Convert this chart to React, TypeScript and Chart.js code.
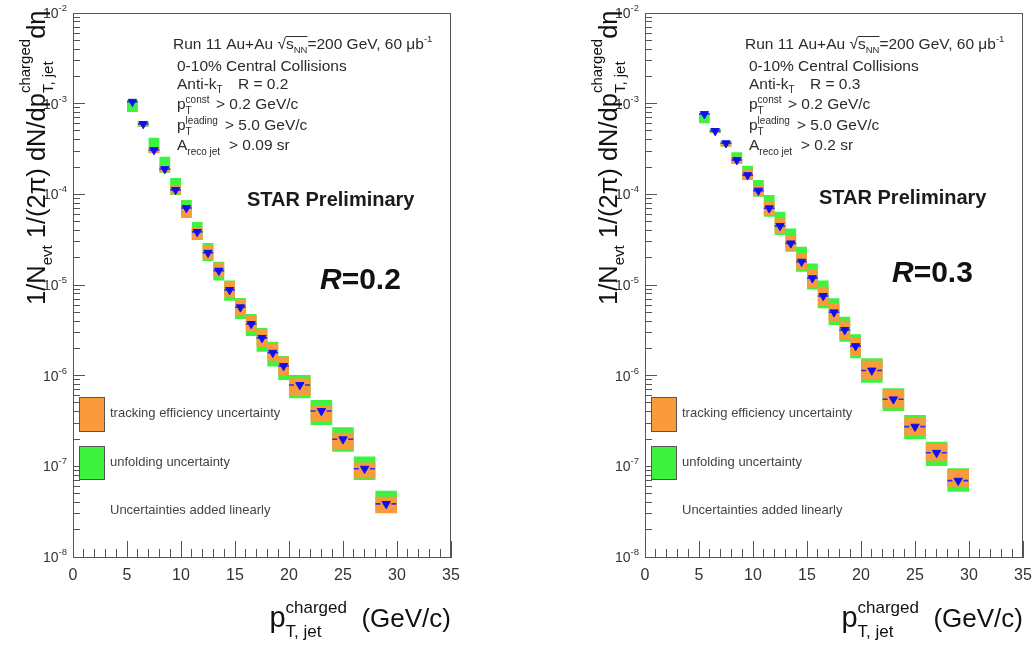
import React, { useEffect, useRef } from 'react';
import { Chart, registerables } from 'chart.js';

Chart.register(...registerables);

const FONT = '"Liberation Sans", Arial, Helvetica, sans-serif';

// ---------------- data ----------------
const binEdges = [5, 6, 7, 8, 9, 10, 11, 12, 13, 14, 15, 16, 17, 18, 19, 20, 22, 24, 26, 28, 30];
const xMajorTicks = [0, 5, 10, 15, 20, 25, 30, 35];
const xMinorTicks = [0, 1, 2, 3, 4, 5, 6, 7, 8, 9, 10, 11, 12, 13, 14, 15, 16, 17, 18, 19, 20, 21, 22, 23, 24, 25, 26, 27, 28, 29, 30, 31, 32, 33, 34, 35];
const yDecades = [1e-8, 1e-7, 1e-6, 1e-5, 1e-4, 1e-3, 1e-2];
const yMinorMantissas = [2, 3, 4, 5, 6, 7, 8, 9];

// R = 0.2
const r02Value = [1.05e-3, 5.97e-4, 3.08e-4, 1.9e-4, 1.12e-4, 7.07e-5, 3.85e-5, 2.27e-5, 1.44e-5, 8.81e-6, 5.68e-6, 3.72e-6, 2.61e-6, 1.79e-6, 1.28e-6, 7.89e-7, 4.08e-7, 1.99e-7, 9.42e-8, 3.85e-8];
const r02UnfHi = [1.1e-3, 6.44e-4, 4.22e-4, 2.6e-4, 1.51e-4, 8.67e-5, 4.95e-5, 2.9e-5, 1.81e-5, 1.12e-5, 7.19e-6, 4.79e-6, 3.36e-6, 2.37e-6, 1.65e-6, 1.02e-6, 5.39e-7, 2.7e-7, 1.28e-7, 5.38e-8];
const r02UnfLo = [8.1e-4, 5.53e-4, 2.84e-4, 1.73e-4, 9.84e-5, 5.48e-5, 3.13e-5, 1.84e-5, 1.12e-5, 6.71e-6, 4.22e-6, 2.74e-6, 1.84e-6, 1.26e-6, 8.96e-7, 5.63e-7, 2.86e-7, 1.45e-7, 7.07e-8, 3.03e-8];
const r02TrkHi = [1.05e-3, 6.12e-4, 3.33e-4, 2.11e-4, 1.24e-4, 7.62e-5, 4.26e-5, 2.76e-5, 1.76e-5, 1.09e-5, 7.01e-6, 4.67e-6, 3.27e-6, 2.29e-6, 1.62e-6, 9.35e-7, 4.75e-7, 2.35e-7, 1.1e-7, 4.62e-8];
const r02TrkLo = [1.05e-3, 5.6e-4, 2.86e-4, 1.75e-4, 1.0e-4, 5.52e-5, 3.15e-5, 1.94e-5, 1.24e-5, 7.43e-6, 4.67e-6, 3.05e-6, 2.09e-6, 1.46e-6, 1.02e-6, 5.97e-7, 3.1e-7, 1.51e-7, 7.38e-8, 3.05e-8];

// R = 0.3
const r03Value = [7.69e-4, 5.0e-4, 3.66e-4, 2.39e-4, 1.63e-4, 1.1e-4, 7.02e-5, 4.48e-5, 2.88e-5, 1.81e-5, 1.19e-5, 7.57e-6, 5.0e-6, 3.19e-6, 2.12e-6, 1.14e-6, 5.49e-7, 2.74e-7, 1.41e-7, 6.95e-8];
const r03UnfHi = [7.83e-4, 5.35e-4, 3.91e-4, 2.91e-4, 2.07e-4, 1.44e-4, 9.84e-5, 6.44e-5, 4.2e-5, 2.64e-5, 1.73e-5, 1.12e-5, 7.13e-6, 4.47e-6, 2.86e-6, 1.56e-6, 7.26e-7, 3.68e-7, 1.87e-7, 9.51e-8];
const r03UnfLo = [6.07e-4, 4.71e-4, 3.35e-4, 2.16e-4, 1.44e-4, 9.42e-5, 5.67e-5, 3.56e-5, 2.33e-5, 1.4e-5, 8.91e-6, 5.54e-6, 3.62e-6, 2.37e-6, 1.56e-6, 8.37e-7, 4.08e-7, 1.99e-7, 1.01e-7, 5.25e-8];
const r03TrkHi = [7.69e-4, 5.1e-4, 3.81e-4, 2.6e-4, 1.85e-4, 1.24e-4, 8.3e-5, 5.45e-5, 3.47e-5, 2.24e-5, 1.48e-5, 9.57e-6, 6.28e-6, 4.04e-6, 2.65e-6, 1.47e-6, 6.95e-7, 3.47e-7, 1.8e-7, 9.12e-8];
const r03TrkLo = [7.69e-4, 4.8e-4, 3.37e-4, 2.18e-4, 1.46e-4, 9.5e-5, 5.92e-5, 3.78e-5, 2.39e-5, 1.46e-5, 9.44e-6, 5.86e-6, 3.94e-6, 2.52e-6, 1.65e-6, 8.96e-7, 4.37e-7, 2.16e-7, 1.15e-7, 5.97e-8];

// ---------------- helpers ----------------
type Panel = {
  value: number[];
  unfHi: number[];
  unfLo: number[];
  trkHi: number[];
  trkLo: number[];
  rText: string;
  areaCut: string;
  yAxisWidth: number;
  padRight: number;
  rY: number;
  starY: number;
};

const panels: Panel[] = [
  { value: r02Value, unfHi: r02UnfHi, unfLo: r02UnfLo, trkHi: r02TrkHi, trkLo: r02TrkLo, rText: '0.2', areaCut: '> 0.09 sr', yAxisWidth: 73, padRight: 66, rY: 289, starY: 206 },
  { value: r03Value, unfHi: r03UnfHi, unfLo: r03UnfLo, trkHi: r03TrkHi, trkLo: r03TrkLo, rText: '0.3', areaCut: '> 0.2 sr', yAxisWidth: 128, padRight: 11, rY: 282, starY: 204 },
];

function stepPoints(vals: number[]) {
  return binEdges.map((e, i) => ({ x: e, y: vals[Math.min(i, vals.length - 1)] }));
}
function errorBarPoints(vals: number[]) {
  const pts: { x: number; y: number | null }[] = [];
  vals.forEach((v, i) => {
    pts.push({ x: binEdges[i], y: v }, { x: binEdges[i + 1], y: v }, { x: binEdges[i + 1], y: null });
  });
  return pts;
}
function markerPoints(vals: number[]) {
  return vals.map((v, i) => ({ x: (binEdges[i] + binEdges[i + 1]) / 2, y: v }));
}

type Seg = { t?: string; s: number; dy?: number; b?: boolean; i?: boolean; sup?: string; sub?: string; supDy?: number; subDy?: number };
function fnt(s: number, b?: boolean, i?: boolean) {
  return `${i ? 'italic ' : ''}${b ? 'bold ' : ''}${s}px ${FONT}`;
}
function segWidth(ctx: CanvasRenderingContext2D, g: Seg) {
  ctx.font = fnt(g.s, g.b, g.i);
  if (g.t !== undefined) return ctx.measureText(g.t).width;
  return Math.max(g.sup ? ctx.measureText(g.sup).width : 0, g.sub ? ctx.measureText(g.sub).width : 0);
}
function richWidth(ctx: CanvasRenderingContext2D, segs: Seg[]) {
  return segs.reduce((a, g) => a + segWidth(ctx, g), 0);
}
function drawRich(ctx: CanvasRenderingContext2D, x: number, y: number, segs: Seg[]) {
  for (const g of segs) {
    const w = segWidth(ctx, g);
    ctx.font = fnt(g.s, g.b, g.i);
    if (g.t !== undefined) {
      ctx.fillText(g.t, x, y + (g.dy || 0));
    } else {
      if (g.sup) ctx.fillText(g.sup, x, y + (g.supDy || 0));
      if (g.sub) ctx.fillText(g.sub, x, y + (g.subDy || 0));
    }
    x += w;
  }
  return x;
}

function annotationPlugin(panel: Panel) {
  return {
    id: 'annotations',
    afterDraw(chart: any) {
      const ctx: CanvasRenderingContext2D = chart.ctx;
      const a = chart.chartArea;
      const L = a.left;
      ctx.save();
      ctx.textAlign = 'left';
      ctx.textBaseline = 'alphabetic';

      // frame
      ctx.strokeStyle = '#555';
      ctx.lineWidth = 1;
      ctx.strokeRect(Math.round(a.left) + 0.5, Math.round(a.top) + 0.5, Math.round(a.right - a.left) - 1, Math.round(a.bottom - a.top));

      // y tick labels 10^n
      const yScale = chart.scales.y;
      ctx.fillStyle = '#333';
      yDecades.forEach((v) => {
        const py = yScale.getPixelForValue(v);
        const exp = String(Math.round(Math.log10(v)));
        ctx.font = fnt(14);
        const w10 = ctx.measureText('10').width;
        ctx.font = fnt(9.5);
        const we = ctx.measureText(exp).width;
        const x0 = L - 6 - w10 - we;
        ctx.font = fnt(14);
        ctx.fillText('10', x0, py + 5);
        ctx.font = fnt(9.5);
        ctx.fillText(exp, x0 + w10, py - 2);
      });

      // y title (rotated)
      ctx.save();
      ctx.translate(L - 28, 305);
      ctx.rotate(-Math.PI / 2);
      ctx.fillStyle = '#111';
      drawRich(ctx, 0, 0, [
        { t: '1/N', s: 25.5 },
        { t: 'evt', s: 15, dy: 7 },
        { t: ' 1/(2\u03c0) dN/dp', s: 25.5 },
        { sup: 'charged', sub: 'T, jet', s: 15, supDy: -15, subDy: 8 },
        { t: 'd\u03b7', s: 25.5 },
      ]);
      ctx.restore();

      // x title, right aligned
      const xt: Seg[] = [
        { t: 'p', s: 29 },
        { sup: 'charged', sub: 'T, jet', s: 17, supDy: -14, subDy: 10 },
        { t: '  (GeV/c)', s: 26 },
      ];
      ctx.fillStyle = '#111';
      drawRich(ctx, a.right - richWidth(ctx, xt), 627, xt);

      // info text block
      ctx.fillStyle = '#2b2b2b';
      const S = 15.5;
      let x = drawRich(ctx, L + 100, 49, [{ t: 'Run 11 Au+Au ', s: S }]);
      ctx.font = fnt(S);
      ctx.fillText('\u221a', x, 49);
      x += ctx.measureText('\u221a').width;
      const ox = x;
      x = drawRich(ctx, x, 49, [{ t: 's', s: S }, { t: 'NN', s: 9.5, dy: 4 }]);
      ctx.strokeStyle = '#2b2b2b';
      ctx.beginPath();
      ctx.moveTo(ox, 36.5);
      ctx.lineTo(x, 36.5);
      ctx.stroke();
      drawRich(ctx, x, 49, [{ t: '=200 GeV, 60 \u03bcb', s: S }, { t: '-1', s: 9.5, dy: -7 }]);

      drawRich(ctx, L + 104, 71, [{ t: '0-10% Central Collisions', s: S }]);
      drawRich(ctx, L + 104, 89, [{ t: 'Anti-k', s: S }, { t: 'T', s: 10, dy: 4 }]);
      drawRich(ctx, L + 165, 89, [{ t: 'R = ' + panel.rText, s: S }]);
      drawRich(ctx, L + 104, 109, [{ t: 'p', s: S }, { sup: 'const', sub: 'T', s: 10, supDy: -6, subDy: 5 }]);
      drawRich(ctx, L + 143, 109, [{ t: '> 0.2 GeV/c', s: S }]);
      drawRich(ctx, L + 104, 130, [{ t: 'p', s: S }, { sup: 'leading', sub: 'T', s: 10, supDy: -6, subDy: 5 }]);
      drawRich(ctx, L + 152, 130, [{ t: '> 5.0 GeV/c', s: S }]);
      drawRich(ctx, L + 104, 150, [{ t: 'A', s: S }, { t: 'reco jet', s: 10, dy: 5 }]);
      drawRich(ctx, L + 156, 150, [{ t: panel.areaCut, s: S }]);

      // STAR Preliminary
      ctx.fillStyle = '#1a1a1a';
      drawRich(ctx, L + 174, panel.starY, [{ t: 'STAR Preliminary', s: 20, b: true }]);

      // R label
      ctx.fillStyle = '#111';
      drawRich(ctx, L + 247, panel.rY, [
        { t: 'R', s: 30, b: true, i: true },
        { t: '=' + panel.rText, s: 30, b: true },
      ]);

      // legend
      const boxes = [
        { c: '#f99a3c', y0: 397, y1: 432, txt: 'tracking efficiency uncertainty', ty: 417 },
        { c: '#3ff23f', y0: 446, y1: 480, txt: 'unfolding uncertainty', ty: 466 },
      ];
      boxes.forEach((bx) => {
        ctx.fillStyle = bx.c;
        ctx.fillRect(L + 6, bx.y0, 26, bx.y1 - bx.y0);
        ctx.strokeStyle = '#555';
        ctx.strokeRect(L + 6.5, bx.y0 + 0.5, 25, bx.y1 - bx.y0 - 1);
        ctx.fillStyle = '#444';
        drawRich(ctx, L + 37, bx.ty, [{ t: bx.txt, s: 13 }]);
      });
      ctx.fillStyle = '#444';
      drawRich(ctx, L + 37, 514, [{ t: 'Uncertainties added linearly', s: 13 }]);

      ctx.restore();
    },
  };
}

function buildConfig(panel: Panel): any {
  const tickGrid = (len: number) => ({
    display: true,
    drawOnChartArea: false,
    drawTicks: true,
    tickLength: len,
    color: '#555',
    tickColor: '#555',
    tickWidth: 1,
  });
  const yMinorValues: number[] = [];
  yDecades.slice(0, -1).forEach((d) => yMinorMantissas.forEach((m) => yMinorValues.push(d * m)));
  const noPad = (s: any) => {
    s.paddingLeft = 0;
    s.paddingRight = 0;
    s.paddingTop = 0;
    s.paddingBottom = 0;
  };

  return {
    type: 'line',
    data: {
      datasets: [
        {
          label: 'data',
          data: markerPoints(panel.value),
          showLine: false,
          pointStyle: 'triangle',
          rotation: 180,
          pointRadius: 4.8,
          pointBackgroundColor: '#1010ee',
          pointBorderColor: '#1010ee',
          pointBorderWidth: 1,
        },
        {
          label: 'bin width',
          data: errorBarPoints(panel.value),
          borderColor: '#2b2bff',
          borderWidth: 1.6,
          borderDash: [5, 3],
          pointRadius: 0,
          spanGaps: false,
          fill: false,
        },
        {
          label: 'tracking efficiency uncertainty',
          data: stepPoints(panel.trkHi),
          stepped: true,
          borderColor: 'transparent',
          borderWidth: 0,
          pointRadius: 0,
          backgroundColor: '#f99a3c',
          fill: '+1',
        },
        {
          label: 'trk lo',
          data: stepPoints(panel.trkLo),
          stepped: true,
          borderColor: 'transparent',
          borderWidth: 0,
          pointRadius: 0,
          fill: false,
        },
        {
          label: 'unfolding uncertainty',
          data: stepPoints(panel.unfHi),
          stepped: true,
          borderColor: 'transparent',
          borderWidth: 0,
          pointRadius: 0,
          backgroundColor: '#3ff23f',
          fill: '+1',
        },
        {
          label: 'unf lo',
          data: stepPoints(panel.unfLo),
          stepped: true,
          borderColor: 'transparent',
          borderWidth: 0,
          pointRadius: 0,
          fill: false,
        },
      ],
    },
    options: {
      animation: false,
      responsive: false,
      maintainAspectRatio: false,
      events: [],
      layout: { padding: { left: 0, right: panel.padRight, top: 13, bottom: 0 } },
      plugins: { legend: { display: false }, tooltip: { enabled: false } },
      scales: {
        y: {
          type: 'logarithmic',
          position: 'left',
          weight: 1,
          min: 1e-8,
          max: 1e-2,
          afterBuildTicks: (s: any) => {
            s.ticks = yDecades.map((v) => ({ value: v }));
          },
          afterFit: (s: any) => {
            s.width = panel.yAxisWidth;
            noPad(s);
          },
          ticks: { display: false },
          grid: tickGrid(-12),
          border: { display: true, color: '#555', width: 1 },
        },
        yMinor: {
          type: 'logarithmic',
          position: 'left',
          weight: 0,
          min: 1e-8,
          max: 1e-2,
          afterBuildTicks: (s: any) => {
            s.ticks = yMinorValues.map((v) => ({ value: v }));
          },
          afterFit: (s: any) => {
            s.width = 0;
            noPad(s);
          },
          ticks: { display: false },
          grid: tickGrid(-7),
          border: { display: false },
        },
        x: {
          type: 'linear',
          position: 'bottom',
          weight: 1,
          min: 0,
          max: 35,
          afterBuildTicks: (s: any) => {
            s.ticks = xMajorTicks.map((v) => ({ value: v }));
          },
          afterFit: (s: any) => {
            s.height = 88;
            noPad(s);
          },
          ticks: {
            display: true,
            autoSkip: false,
            maxRotation: 0,
            padding: 25,
            color: '#333',
            font: { family: FONT, size: 16 },
          },
          grid: tickGrid(-16),
          border: { display: true, color: '#555', width: 1 },
        },
        xMinor: {
          type: 'linear',
          position: 'bottom',
          weight: 0,
          min: 0,
          max: 35,
          afterBuildTicks: (s: any) => {
            s.ticks = xMinorTicks.map((v) => ({ value: v }));
          },
          afterFit: (s: any) => {
            s.height = 0;
            noPad(s);
          },
          ticks: { display: false },
          grid: tickGrid(-8),
          border: { display: false },
        },
      },
    },
    plugins: [annotationPlugin(panel)],
  };
}

function PanelChart({ panel, left }: { panel: Panel; left: number }) {
  const ref = useRef<HTMLCanvasElement>(null);
  useEffect(() => {
    const chart = new Chart(ref.current as HTMLCanvasElement, buildConfig(panel));
    return () => chart.destroy();
  }, [panel]);
  return (
    <canvas
      ref={ref}
      width={517}
      height={645}
      style={{ position: 'absolute', left, top: 0, width: 517, height: 645, display: 'block' }}
    />
  );
}

export default function App() {
  return (
    <div style={{ position: 'absolute', left: 0, top: 0, width: 1034, height: 645, background: '#fff', overflow: 'hidden' }}>
      <PanelChart panel={panels[0]} left={0} />
      <PanelChart panel={panels[1]} left={517} />
    </div>
  );
}
